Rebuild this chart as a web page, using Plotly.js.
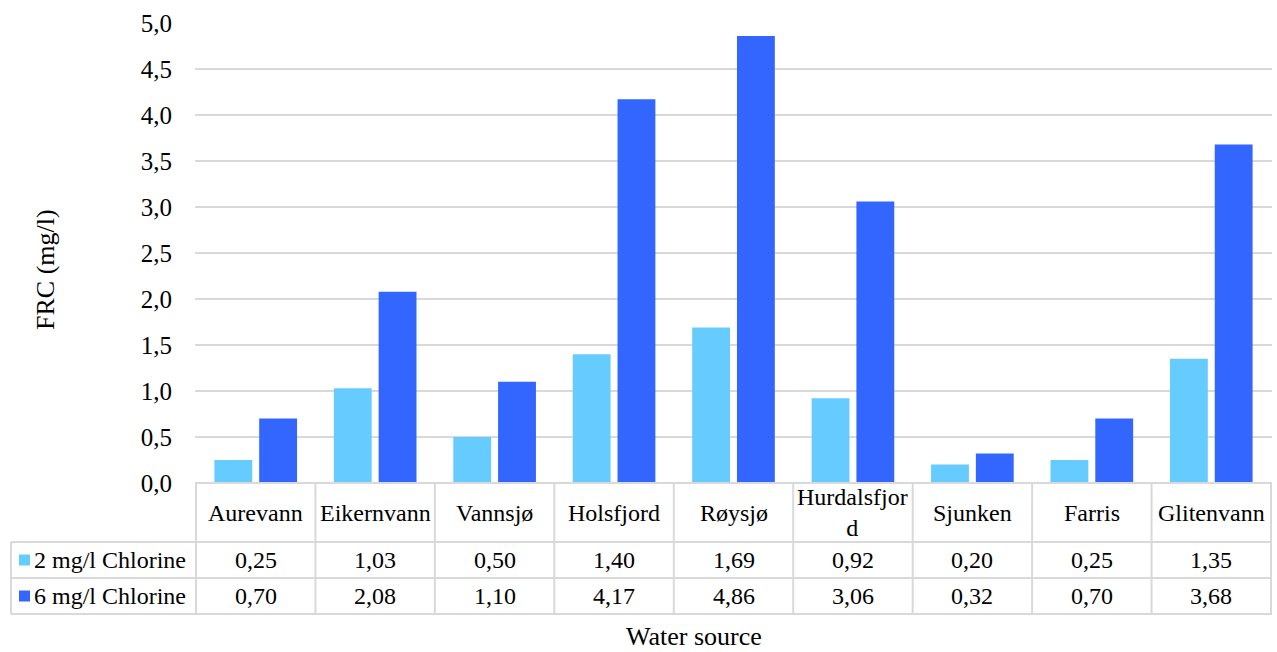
<!DOCTYPE html>
<html>
<head>
<meta charset="utf-8">
<script src="https://cdn.plot.ly/plotly-3.0.1.min.js"></script>
<style>html,body{margin:0;padding:0;background:#fff;}#chart{width:1277px;height:652px;}</style>
</head>
<body>
<div id="chart"></div>
<script>
const categories = ['Aurevann','Eikernvann','Vannsjø','Holsfjord','Røysjø','Hurdalsfjord','Sjunken','Farris','Glitenvann'];
const headerLabels = ['Aurevann','Eikernvann','Vannsjø','Holsfjord','Røysjø','Hurdalsfjor<br>d','Sjunken','Farris','Glitenvann'];
const series2 = [0.25,1.03,0.50,1.40,1.69,0.92,0.20,0.25,1.35];
const series6 = [0.70,2.08,1.10,4.17,4.86,3.06,0.32,0.70,3.68];
const seriesNames = ['2 mg/l Chlorine','6 mg/l Chlorine'];
const colors = ['#66CCFF','#3366FF'];

const FONT = 'Liberation Serif';
const gridColor = '#d9d9d9';
const fmt = v => v.toFixed(2).replace('.', ',');
const TS = 24;

// table geometry in paper coordinates (plot area: 195..1272 x, 23..483 y)
const W = 1077, H = 460;
const py = p => (483 - p) / H;
const px = p => (p - 195) / W;
const rowY = [py(483), py(542), py(578), py(614)];
const leftX = px(11);

const shapes = [];
const annotations = [];
shapes.push({type:'line', xref:'paper', yref:'paper', x0:0, x1:1, y0:rowY[0], y1:rowY[0], line:{color:gridColor, width:2}});
for (let i = 1; i < 4; i++) {
  shapes.push({type:'line', xref:'paper', yref:'paper', x0:leftX, x1:1, y0:rowY[i], y1:rowY[i], line:{color:gridColor, width:2}});
}
for (let i = 0; i <= categories.length; i++) {
  shapes.push({type:'line', xref:'x', yref:'paper', x0:i-0.5, x1:i-0.5, y0:rowY[0], y1:rowY[3], line:{color:gridColor, width:2}});
}
shapes.push({type:'line', xref:'paper', yref:'paper', x0:leftX, x1:leftX, y0:rowY[1], y1:rowY[3], line:{color:gridColor, width:2}});

categories.forEach((c, i) => {
  annotations.push({xref:'x', yref:'paper', x:c, y:(rowY[0]+rowY[1])/2, text:headerLabels[i], showarrow:false,
    font:{family:FONT, size:TS, color:'#000'}, xanchor:'center', yanchor:'middle'});
});
[series2, series6].forEach((s, r) => {
  const yc = (rowY[r+1] + rowY[r+2]) / 2;
  s.forEach((v, i) => {
    annotations.push({xref:'x', yref:'paper', x:categories[i], y:yc, text:fmt(v), showarrow:false,
      font:{family:FONT, size:TS, color:'#000'}, xanchor:'center', yanchor:'middle'});
  });
  shapes.push({type:'rect', xref:'paper', yref:'paper', x0:px(19), x1:px(30), y0:yc-5.5/H, y1:yc+5.5/H, fillcolor:colors[r], line:{width:0}});
  annotations.push({xref:'paper', yref:'paper', x:px(32), y:yc, text:seriesNames[r], showarrow:false,
    font:{family:FONT, size:TS, color:'#000'}, xanchor:'left', yanchor:'middle'});
});
annotations.push({xref:'paper', yref:'paper', x:px(694), y:py(636), text:'Water source', showarrow:false,
  font:{family:FONT, size:26, color:'#000'}, xanchor:'center', yanchor:'middle'});
annotations.push({xref:'paper', yref:'paper', x:px(45), y:py(270), text:'FRC (mg/l)', showarrow:false, textangle:-90,
  font:{family:FONT, size:26, color:'#000'}, xanchor:'center', yanchor:'middle'});

const data = [
  {type:'bar', name:seriesNames[0], x:categories, y:series2, marker:{color:colors[0]}},
  {type:'bar', name:seriesNames[1], x:categories, y:series6, marker:{color:colors[1]}}
];

const layout = {
  width:1277, height:652,
  margin:{l:195, r:5, t:23, b:169},
  paper_bgcolor:'#fff', plot_bgcolor:'#fff',
  barmode:'group', bargap:0.25, bargroupgap:0.155,
  showlegend:false,
  separators:', ',
  font:{family:FONT, size:24, color:'#000'},
  xaxis:{showticklabels:false, ticks:'', showgrid:false, zeroline:false, showline:false, fixedrange:true},
  yaxis:{range:[0,5], dtick:0.5, tickformat:'.1f', showgrid:true, gridcolor:gridColor, gridwidth:2,
    zeroline:false, showline:false, ticks:'', ticklabelstandoff:22,
    tickfont:{family:FONT, size:25, color:'#000'}},
  shapes:shapes,
  annotations:annotations
};

Plotly.newPlot('chart', data, layout, {displayModeBar:false, staticPlot:true});
</script>
</body>
</html>
